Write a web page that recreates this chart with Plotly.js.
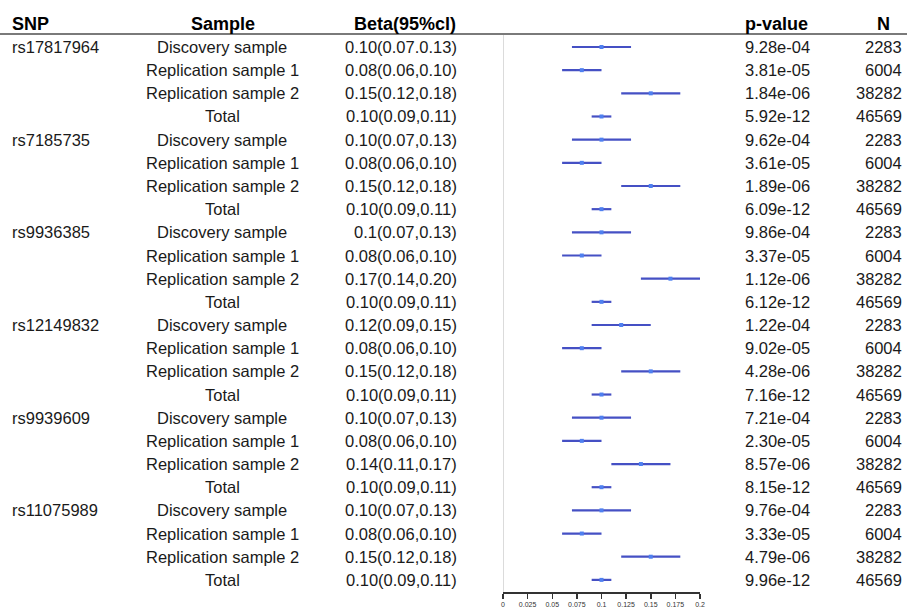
<!DOCTYPE html>
<html>
<head>
<meta charset="utf-8">
<script src="https://cdn.plot.ly/plotly-3.0.1.min.js"></script>
<style>html,body{margin:0;padding:0;background:#fff;}#chart{width:907px;height:610px;}</style>
</head>
<body>
<div id="chart"></div>
<script>
// ---- data ----
const snps = ["rs17817964", "rs7185735", "rs9936385", "rs12149832", "rs9939609", "rs11075989"];
const samples = ["Discovery sample", "Replication sample 1", "Replication sample 2", "Total"];
const betaLabels = [
  "0.10(0.07.0.13)", "0.08(0.06,0.10)", "0.15(0.12,0.18)", "0.10(0.09,0.11)",
  "0.10(0.07,0.13)", "0.08(0.06,0.10)", "0.15(0.12,0.18)", "0.10(0.09,0.11)",
  "0.1(0.07,0.13)",  "0.08(0.06,0.10)", "0.17(0.14,0.20)", "0.10(0.09,0.11)",
  "0.12(0.09,0.15)", "0.08(0.06,0.10)", "0.15(0.12,0.18)", "0.10(0.09,0.11)",
  "0.10(0.07,0.13)", "0.08(0.06,0.10)", "0.14(0.11,0.17)", "0.10(0.09,0.11)",
  "0.10(0.07,0.13)", "0.08(0.06,0.10)", "0.15(0.12,0.18)", "0.10(0.09,0.11)"
];
const beta  = [0.10,0.08,0.15,0.10, 0.10,0.08,0.15,0.10, 0.10,0.08,0.17,0.10, 0.12,0.08,0.15,0.10, 0.10,0.08,0.14,0.10, 0.10,0.08,0.15,0.10];
const lower = [0.07,0.06,0.12,0.09, 0.07,0.06,0.12,0.09, 0.07,0.06,0.14,0.09, 0.09,0.06,0.12,0.09, 0.07,0.06,0.11,0.09, 0.07,0.06,0.12,0.09];
const upper = [0.13,0.10,0.18,0.11, 0.13,0.10,0.18,0.11, 0.13,0.10,0.20,0.11, 0.15,0.10,0.18,0.11, 0.13,0.10,0.17,0.11, 0.13,0.10,0.18,0.11];
const pvals = [
  "9.28e-04","3.81e-05","1.84e-06","5.92e-12",
  "9.62e-04","3.61e-05","1.89e-06","6.09e-12",
  "9.86e-04","3.37e-05","1.12e-06","6.12e-12",
  "1.22e-04","9.02e-05","4.28e-06","7.16e-12",
  "7.21e-04","2.30e-05","8.57e-06","8.15e-12",
  "9.76e-04","3.33e-05","4.79e-06","9.96e-12"
];
const nvals = ["2283","6004","38282","46569"];
const headers = ["SNP", "Sample", "Beta(95%cl)", "p-value", "N"];
const tickVals = [0, 0.025, 0.05, 0.075, 0.1, 0.125, 0.15, 0.175, 0.2];
const tickText = ["0", "0.025", "0.05", "0.075", "0.1", "0.125", "0.15", "0.175", "0.2"];

// ---- layout helpers ----
const W = 907, H = 610;
const px = v => v / W;
const py = v => 1 - v / H;
const FONT = "Liberation Sans, Arial, sans-serif";

const rows = beta.map((_, i) => i + 1);
const snpIdx = rows.map((r, i) => Math.floor(i / samples.length));
const sampIdx = rows.map((r, i) => i % samples.length);

const ann = [];
const hdrFont = {family: FONT, size: 18, color: "#000"};
function add(text, x, y, anchor, font) {
  ann.push({text: text, x: px(x), xref: "paper", y: y, yref: "y", xanchor: anchor, yanchor: "middle",
            showarrow: false, font: font, borderpad: 0});
}
add("<b>" + headers[0] + "</b>", 11, 0, "left", hdrFont);
add("<b>" + headers[1] + "</b>", 223, 0, "center", hdrFont);
add("<b>" + headers[2] + "</b>", 457, 0, "right", hdrFont);
add("<b>" + headers[3] + "</b>", 744, 0, "left", hdrFont);
add("<b>" + headers[4] + "</b>", 883, 0, "center", hdrFont);

const txtFont = {family: FONT, size: 16.5, color: "#1a1a1a"};
rows.forEach((r, i) => {
  if (sampIdx[i] === 0) add(snps[snpIdx[i]], 11, r, "left", txtFont);
  add(samples[sampIdx[i]], 222, r, "center", txtFont);
  add(betaLabels[i], 458, r, "right", txtFont);
  add(pvals[i], 744, r, "left", txtFont);
  add(nvals[sampIdx[i]], 903, r, "right", txtFont);
});

const trace = {
  type: "scatter", mode: "markers",
  x: beta, y: rows,
  marker: {symbol: "square", size: 4, color: "#4F80F0"},
  error_x: {type: "data", symmetric: false,
            array: beta.map((b, i) => upper[i] - b),
            arrayminus: beta.map((b, i) => b - lower[i]),
            color: "#4550C4", thickness: 2.2, width: 0},
  hoverinfo: "skip"
};

const layout = {
  width: W, height: H,
  margin: {l: 0, r: 0, t: 0, b: 0},
  paper_bgcolor: "#fff", plot_bgcolor: "rgba(0,0,0,0)",
  showlegend: false,
  xaxis: {
    domain: [px(503), px(700)], range: [0, 0.2],
    anchor: "free", position: 1 - 592 / H,
    showgrid: false, zeroline: false,
    showline: true, linecolor: "#333", linewidth: 1.5,
    ticks: "outside", ticklen: 5, tickwidth: 1.5, tickcolor: "#333",
    tickvals: tickVals, ticktext: tickText,
    tickfont: {family: FONT, size: 7, color: "#333"}
  },
  yaxis: {
    domain: [0, 1], range: [25.30, -1.028], visible: false, fixedrange: true
  },
  annotations: ann,
  shapes: [
    {type: "line", xref: "paper", yref: "paper", x0: 0, x1: 1, y0: py(34), y1: py(34),
     line: {color: "#7a7a7a", width: 2}},
    {type: "line", xref: "x", yref: "paper", x0: 0, x1: 0, y0: py(35), y1: py(592),
     line: {color: "#cfcfcf", width: 1.5}}
  ]
};

Plotly.newPlot("chart", [trace], layout, {displayModeBar: false, staticPlot: true});
</script>
</body>
</html>
